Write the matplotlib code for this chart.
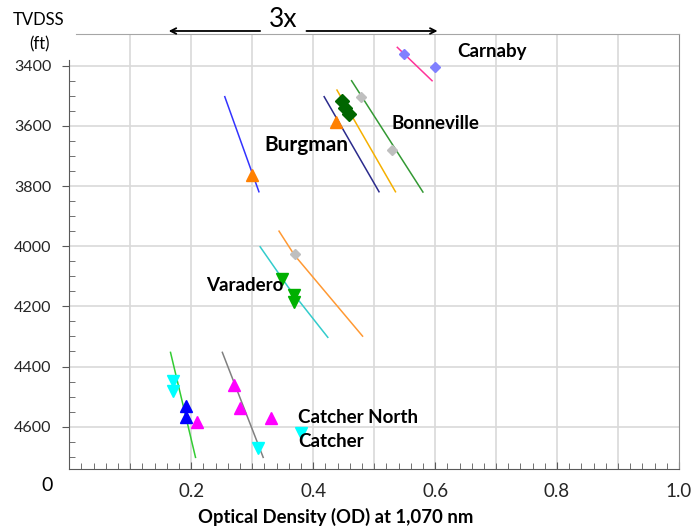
import numpy as np
import matplotlib.pyplot as plt
from matplotlib.ticker import MultipleLocator, FixedLocator

plt.rcParams['font.family'] = ['Lato', 'DejaVu Sans']

# trend lines (OD, TVDSS ft)
carnaby_line_x = [0.538, 0.595]
carnaby_line_y = [3339, 3450]
bonn_green_x = [0.463, 0.580]
bonn_green_y = [3450, 3820]
bonn_yellow_x = [0.439, 0.535]
bonn_yellow_y = [3481, 3819]
bonn_navy_x = [0.418, 0.508]
bonn_navy_y = [3503, 3819]
burgman_line_x = [0.255, 0.311]
burgman_line_y = [3503, 3819]
varadero_orange_x = [0.344, 0.369, 0.481]
varadero_orange_y = [3950, 4029, 4299]
varadero_cyan_x = [0.313, 0.359, 0.424]
varadero_cyan_y = [4002, 4136, 4303]
catcher_green_x = [0.166, 0.207]
catcher_green_y = [4353, 4702]
catcher_gray_x = [0.251, 0.318]
catcher_gray_y = [4353, 4702]

# measured samples
carnaby_od = [0.549, 0.600]
carnaby_depth = [3361, 3404]
gray_od = [0.479, 0.530, 0.370]
gray_depth = [3505, 3681, 4026]
dkgreen_od = [0.448, 0.453, 0.458]
dkgreen_depth = [3516, 3541, 3561]
orange_od = [0.438, 0.300]
orange_depth = [3588, 3763]
varadero_od = [0.349, 0.369, 0.369]
varadero_depth = [4110, 4162, 4184]
cyan_od = [0.1695, 0.1695, 0.309, 0.380]
cyan_depth = [4447, 4481, 4671, 4621]
blue_od = [0.191, 0.191]
blue_depth = [4531, 4568]
magenta_od = [0.210, 0.270, 0.280, 0.330]
magenta_depth = [4586, 4461, 4538, 4571]

# field names and where they sit
field_names = ['Carnaby', 'Bonneville', 'Burgman', 'Varadero', 'Catcher North', 'Catcher']
field_x = [0.637, 0.528, 0.320, 0.225, 0.375, 0.375]
field_y = [3353, 3593, 3664, 4130, 4568, 4650]
field_size = [13.5, 13.5, 15, 13.5, 13.5, 13.5]

x_ticks = [0.2, 0.4, 0.6, 0.8, 1.0]
x_ticklabels = ['0.2', '0.4', '0.6', '0.8', '1.0']
y_ticks = [3400, 3600, 3800, 4000, 4200, 4400, 4600]

fig = plt.figure(figsize=(6.96, 5.29), dpi=100)
ax = fig.add_axes([69.3 / 696, 1 - 469 / 529, 609.7 / 696, 435 / 529])

ax.set_xlim(0, 1.0)
ax.set_ylim(4740.7, 3294.6)

for g in [0.1, 0.2, 0.3, 0.4, 0.5, 0.6, 0.7, 0.8, 0.9]:
    ax.axvline(g, color='#d9d9d9', lw=1.2, zorder=0)
for g in y_ticks:
    ax.axhline(g, color='#d9d9d9', lw=1.2, zorder=0)

ax.plot(carnaby_line_x, carnaby_line_y, color='#ff3399', lw=1.1)
ax.plot(bonn_green_x, bonn_green_y, color='#339933', lw=1.1)
ax.plot(bonn_yellow_x, bonn_yellow_y, color='#f5b000', lw=1.1)
ax.plot(bonn_navy_x, bonn_navy_y, color='#2b2b8c', lw=1.1)
ax.plot(burgman_line_x, burgman_line_y, color='#3333ff', lw=1.1)
ax.plot(varadero_orange_x, varadero_orange_y, color='#ff9933', lw=1.1)
ax.plot(varadero_cyan_x, varadero_cyan_y, color='#33cccc', lw=1.1)
ax.plot(catcher_green_x, catcher_green_y, color='#33cc33', lw=1.1)
ax.plot(catcher_gray_x, catcher_gray_y, color='#808080', lw=1.1)

ax.plot(carnaby_od, carnaby_depth, 'D', color='#8080ff', ms=5.5, ls='None')
ax.plot(gray_od, gray_depth, 'D', color='#bfbfbf', ms=5.5, ls='None')
ax.plot(dkgreen_od, dkgreen_depth, 'D', color='#006600', ms=7, ls='None')
ax.plot(orange_od, orange_depth, '^', color='#ff8000', ms=9, ls='None')
ax.plot(varadero_od, varadero_depth, 'v', color='#00b000', ms=9, ls='None')
ax.plot(cyan_od, cyan_depth, 'v', color='#00ffff', ms=9, ls='None')
ax.plot(blue_od, blue_depth, '^', color='#0000ff', ms=9, ls='None')
ax.plot(magenta_od, magenta_depth, '^', color='#ff00ff', ms=9, ls='None')

for name, x, y, s in zip(field_names, field_x, field_y, field_size):
    ax.text(x, y, name, fontsize=s, fontweight='bold', ha='left', va='center')

# spines
ax.spines['left'].set_color('#595959')
ax.spines['left'].set_bounds(3381, 4740.7)
ax.spines['bottom'].set_color('#595959')
ax.spines['top'].set_color('#a6a6a6')
ax.spines['top'].set_bounds(0.011, 1.0)
ax.spines['right'].set_color('#8c8c8c')

# ticks
ax.xaxis.set_major_locator(FixedLocator(x_ticks))
ax.xaxis.set_minor_locator(MultipleLocator(0.02))
ax.set_xticklabels(x_ticklabels)
ax.tick_params(axis='x', which='major', direction='in', length=5, pad=10,
               labelsize=13.5, labelcolor='#262626', color='#595959')
ax.tick_params(axis='x', which='minor', direction='in', length=4, color='#595959')

ax.yaxis.set_major_locator(FixedLocator(y_ticks))
ax.yaxis.set_minor_locator(FixedLocator(np.arange(3400, 4751, 50)))
ax.tick_params(axis='y', which='major', direction='out', length=5, pad=8,
               labelsize=11.5, labelcolor='#262626', color='#595959')
ax.tick_params(axis='y', which='minor', direction='in', length=4, color='#595959')

ax.text(-0.036, 4795, '0', fontsize=14, ha='center', va='center', clip_on=False)
ax.set_xlabel('Optical Density (OD) at 1,070 nm', fontsize=13.3, fontweight='bold')
ax.xaxis.set_label_coords(0.437, -0.090)

fig.text(39 / 696, 1 - 20 / 529, 'TVDSS', fontsize=12, ha='center', va='center')
fig.text(39 / 696, 1 - 44 / 529, '(ft)', fontsize=12, ha='center', va='center')

# 3x span arrow above the plot
arrow_y = 3284.6
ax.annotate('', xy=(0.163, arrow_y), xytext=(0.313, arrow_y),
            arrowprops=dict(arrowstyle='->', color='black', lw=1.3,
                            shrinkA=0, shrinkB=0), annotation_clip=False)
ax.annotate('', xy=(0.604, arrow_y), xytext=(0.389, arrow_y),
            arrowprops=dict(arrowstyle='->', color='black', lw=1.3,
                            shrinkA=0, shrinkB=0), annotation_clip=False)
ax.text(0.350, 3247, '3x', fontsize=19, ha='center', va='center', clip_on=False)

fig.savefig('out.png', dpi=100)
